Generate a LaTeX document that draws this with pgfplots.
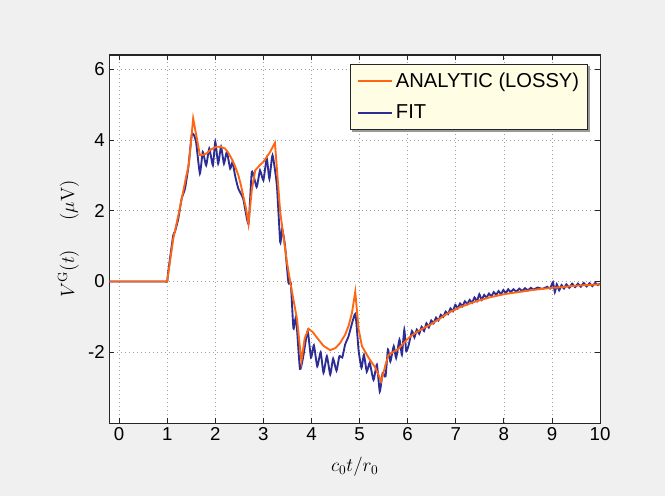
\documentclass[border=0pt]{standalone}
\usepackage[no-math]{fontspec}
\setmainfont{Liberation Sans}
\usepackage{pgfplots}
\pgfplotsset{compat=1.18}
\pgfdeclarelayer{background}
\pgfsetlayers{background,main}
\definecolor{figbg}{RGB}{240,240,240}
\definecolor{analytic}{RGB}{255,102,17}
\definecolor{fitblue}{RGB}{45,45,150}
\definecolor{legbg}{RGB}{255,253,228}

\begin{document}
\begin{tikzpicture}
\begin{axis}[
    name=ax,
    scale only axis, width=367.9pt, height=276pt,
    xmin=-0.2, xmax=10, ymin=-4, ymax=6.4,
    xtick={0,...,10}, ytick={-2,0,2,4,6},
    tick align=inside, major tick length=3.75pt,
    tick style={color=black!85, line width=0.6pt},
    axis line style={black!85, line width=0.8pt},
    grid=major,
    grid style={gray!75, line width=0.5pt, dash pattern=on 0.75pt off 2.25pt},
    ticklabel style={font=\fontsize{14}{16}\selectfont},
    /pgf/number format/assume math mode=true,
    xlabel={$c_0t/r_0$},
    ylabel={$V^{\mathrm{G}}(t)\hspace{22pt}(\mu\mathrm{V})$},
    label style={font=\fontsize{14}{16}\selectfont},
    xlabel style={yshift=-5pt},
    legend style={name=leg, at={(0.976,0.9755)}, anchor=north east, draw=black!85,
        line width=0.8pt, fill=legbg, font=\fontsize{15.1}{17}\selectfont,
        inner xsep=4.5pt, inner ysep=4.3pt, row sep=7.5pt},
    legend cell align=left,
    reverse legend,
    legend image code/.code={\draw[#1] (0pt,0pt) -- (26pt,0pt);},
]
\addplot[fitblue, line width=1.4pt, smooth, tension=0.3] coordinates {
(-0.2,0)(0.0,0)(0.5,0)(0.95,0)(1.0,0)(1.02,0.26)(1.125,1.30)(1.16,1.40)(1.23,1.77)(1.30,2.34)(1.37,2.62)
(1.44,3.24)(1.51,4.14)(1.55,4.15)(1.60,3.95)(1.68,3.05)(1.74,3.66)(1.81,3.28)
(1.875,3.76)(1.95,3.28)(2.0,3.95)(2.06,3.33)(2.12,3.81)(2.18,3.33)(2.24,3.66)
(2.31,3.19)(2.36,3.38)(2.41,3.0)(2.48,2.62)(2.58,2.34)(2.69,1.63)(2.76,3.10)
(2.86,2.67)(2.93,3.14)(3.0,2.86)(3.07,3.48)(3.125,2.9)(3.19,3.57)(3.28,2.72)
(3.35,1.11)(3.39,1.49)(3.45,1.01)(3.52,-0.03)(3.57,-0.05)(3.625,-1.33)(3.68,-1.02)
(3.76,-2.47)(3.83,-2.11)(3.92,-1.40)(3.99,-2.15)(4.05,-1.80)(4.12,-2.40)(4.19,-2.0)
(4.25,-2.58)(4.32,-2.11)(4.39,-2.63)(4.45,-2.18)(4.52,-2.52)(4.58,-2.11)(4.64,-2.15)
(4.70,-1.78)(4.77,-1.55)(4.91,-0.92)(4.98,-1.95)(5.04,-2.44)(5.09,-2.07)(5.15,-2.55)
(5.21,-2.30)(5.29,-2.78)(5.36,-2.35)(5.42,-3.11)(5.48,-2.59)(5.54,-2.68)(5.59,-1.92)
(5.64,-2.26)(5.71,-1.83)(5.76,-2.16)(5.83,-1.64)(5.88,-2.07)(5.93,-1.36)(5.97,-1.97)
(6.02,-1.80)(6.09,-1.40)(6.14,-1.58)(6.19,-1.36)(6.24,-1.48)(6.29,-1.28)(6.34,-1.40)
(6.39,-1.18)(6.44,-1.30)(6.49,-1.10)(6.54,-1.18)(6.59,-1.02)(6.64,-1.10)(6.69,-0.94)
(6.74,-1.00)(6.79,-0.85)(6.84,-0.92)(6.89,-0.76)(6.94,-0.84)(6.99,-0.66)(7.04,-0.76)
(7.09,-0.62)(7.14,-0.70)(7.19,-0.56)(7.24,-0.64)(7.29,-0.52)(7.34,-0.60)(7.39,-0.45)
(7.44,-0.56)(7.49,-0.36)(7.54,-0.52)(7.59,-0.38)(7.64,-0.46)(7.69,-0.34)(7.74,-0.42)
(7.79,-0.30)(7.84,-0.38)(7.89,-0.27)(7.94,-0.36)(7.99,-0.24)(8.04,-0.33)(8.09,-0.22)
(8.14,-0.30)(8.2,-0.22)(8.26,-0.29)(8.32,-0.20)(8.38,-0.27)(8.44,-0.19)(8.5,-0.25)
(8.56,-0.18)(8.62,-0.23)(8.7,-0.17)(8.8,-0.21)(8.9,-0.15)(8.96,-0.20)(9.02,-0.02)
(9.06,-0.30)(9.1,-0.08)(9.15,-0.25)(9.2,-0.10)(9.25,-0.20)(9.3,-0.08)(9.36,-0.18)
(9.42,-0.06)(9.48,-0.16)(9.54,-0.06)(9.6,-0.15)(9.66,-0.04)(9.72,-0.14)(9.78,-0.05)
(9.84,-0.13)(9.9,-0.04)(9.95,-0.10)(10,-0.06)
};
\addlegendentry{FIT}
\addplot[analytic, line width=1.4pt] coordinates {
(-0.2,0)(1.0,0)(1.125,1.2)(1.26,2.05)(1.40,3.0)(1.45,3.3)(1.54,4.61)(1.68,3.57)
(1.75,3.58)(1.82,3.62)(1.92,3.74)(2.03,3.81)(2.12,3.80)(2.20,3.76)(2.27,3.64)(2.34,3.47)
(2.41,3.26)(2.48,3.0)(2.53,2.74)(2.58,2.43)(2.64,2.05)(2.69,1.63)(2.76,2.6)(2.83,3.14)
(2.92,3.28)(3.0,3.38)(3.14,3.66)(3.24,3.92)
(3.35,1.96)(3.49,0.54)(3.56,-0.03)(3.70,-1.07)(3.79,-2.25)(3.86,-1.6)(3.94,-1.34)
(4.02,-1.42)(4.11,-1.58)(4.25,-1.82)(4.39,-1.94)(4.50,-1.88)(4.6,-1.73)(4.70,-1.50)
(4.77,-1.26)(4.84,-0.90)(4.91,-0.29)(4.98,-1.35)(5.05,-1.83)(5.19,-2.16)(5.33,-2.44)
(5.45,-2.82)(5.54,-2.35)(5.60,-2.08)(5.81,-1.90)(6.0,-1.62)(6.1,-1.51)(6.2,-1.42)
(6.3,-1.34)(6.4,-1.27)(6.5,-1.20)(6.6,-1.11)(6.7,-1.02)(6.8,-0.93)(6.9,-0.85)
(7.0,-0.78)(7.1,-0.72)(7.2,-0.67)(7.3,-0.62)(7.4,-0.57)(7.5,-0.53)(7.6,-0.49)
(7.7,-0.45)(7.8,-0.42)(7.9,-0.39)(8.0,-0.36)(8.2,-0.32)(8.4,-0.28)(8.6,-0.24)
(8.8,-0.21)(9.0,-0.18)(9.2,-0.16)(9.4,-0.13)(9.6,-0.11)(9.8,-0.095)(10,-0.08)
};
\addlegendentry{ANALYTIC (LOSSY)}
\end{axis}
\begin{pgfonlayer}{background}
\fill[figbg] (-82.1pt,-54.75pt) rectangle (416.6pt,317.25pt);
\fill[white] (ax.south west) rectangle (ax.north east);
\fill[black!40] ([shift={(1.5pt,-1.5pt)}]leg.south west) rectangle ([shift={(1.5pt,-1.5pt)}]leg.north east);
\end{pgfonlayer}
\end{tikzpicture}
\end{document}
